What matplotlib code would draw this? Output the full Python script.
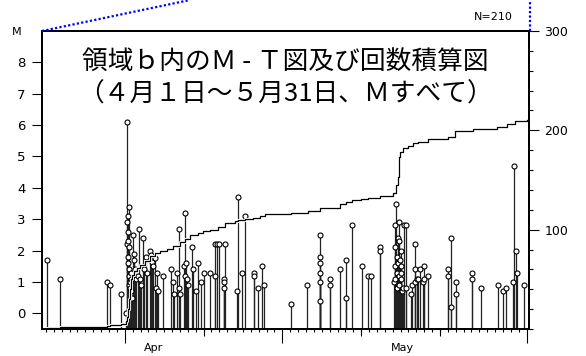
import matplotlib
matplotlib.use("Agg")
import matplotlib.pyplot as plt
import matplotlib.patheffects as pe
from matplotlib.lines import Line2D

# days counted from Apr 1 00:00 (day 0), magnitude M
ev_day = [0.17, 1.78, 7.75, 8.17, 9.56,
          10.2, 10.25, 10.3, 10.3, 10.35, 10.35, 10.4, 10.4, 10.45, 10.5, 10.5,
          10.55, 10.6, 10.6, 10.65, 10.7, 10.75, 10.8, 10.85, 10.9,
          11.05, 11.15, 11.2, 11.3, 11.45, 11.68, 11.81, 11.94, 12.1, 12.32, 12.44,
          12.7, 12.86, 13.17, 13.37, 13.5, 13.59, 13.8, 13.93, 14.13, 14.22, 14.86,
          15.91, 16.12, 16.25, 16.63, 16.89, 16.89, 16.95,
          17.56, 17.65, 17.65, 17.74, 17.94, 18.07, 18.54, 18.7, 19.01, 19.3, 19.68,
          20.06, 20.82, 21.45, 21.49, 21.71, 21.92, 22.6, 22.6, 22.6, 22.69,
          24.28, 24.37, 24.92, 25.22, 26.4, 26.4, 26.91, 27.46, 27.67,
          31.1, 33.17,
          34.74, 34.74, 34.74, 34.74, 34.74, 34.74,
          36.05, 36.05, 37.32, 38.04, 38.04, 38.84, 40.05, 40.91, 41.24, 42.33, 42.33,
          44.2, 44.34, 44.34, 44.34, 44.34, 44.46, 44.5, 44.55, 44.6, 44.68, 44.7,
          44.75, 44.8, 44.8, 44.85, 44.9, 45.02, 45.02, 45.1, 45.1, 45.2, 45.31,
          45.44, 45.73, 45.73,
          46.37, 46.46, 46.8, 46.8, 46.8, 47.03, 47.22, 47.47, 47.79, 47.98, 48.0, 48.48,
          51.06, 51.06, 51.36, 51.36, 51.99, 51.99, 54.11, 54.11, 55.21, 57.41, 58.0,
          58.38, 59.23, 59.36, 59.59, 59.74, 60.67]
ev_mag = [1.7, 1.1, 1.0, 0.9, 0.6,
          0.0, 6.1, 2.2, 2.9, 2.6, 1.8, 3.1, 2.3, 1.6, 3.4, 2.1,
          1.2, 1.4, 0.9, 1.0, 0.8, 1.3, 0.7, 1.1, 0.5,
          2.5, 1.9, 1.7, 1.4, 1.1, 1.2, 2.7, 1.1, 0.9, 2.4, 1.4,
          1.8, 1.3, 2.0, 1.85, 1.65, 1.5, 1.75, 0.8, 1.3, 0.7, 1.2,
          1.4, 1.0, 0.6, 1.3, 2.7, 0.8, 0.6,
          1.5, 3.2, 1.2, 1.6, 1.1, 0.9, 2.1, 1.4, 0.7, 1.6, 1.0,
          1.3, 1.3, 1.2, 2.2, 2.2, 2.2, 1.1, 1.0, 0.8, 2.2,
          0.7, 3.7, 1.3, 3.1, 1.3, 1.2, 0.8, 1.5, 0.9,
          0.3, 0.9,
          2.5, 1.8, 1.6, 1.3, 1.0, 0.4,
          1.1, 0.9, 1.4, 1.7, 0.5, 2.8, 1.5, 1.2, 1.2, 2.1, 2.0,
          1.0, 2.8, 2.1, 1.5, 1.1, 3.5, 1.8, 1.3, 0.8, 1.6, 2.4,
          1.2, 2.3, 2.9, 0.9, 1.7, 2.0, 1.5, 1.1, 1.3, 0.7, 0.8,
          2.8, 2.8, 0.8,
          0.6, 0.9, 2.2, 1.4, 1.0, 1.1, 1.1, 1.4, 1.0, 1.5, 1.1, 1.2,
          1.4, 1.2, 2.4, 0.2, 1.0, 0.6, 1.3, 1.1, 0.8, 0.9, 0.7,
          0.8, 1.0, 4.7, 2.0, 1.3, 0.9]

# cumulative number of events
cum_day = [-0.5, 0.17, 1.78, 7.75, 8.17, 9.56, 10.16, 10.29, 10.41, 10.54, 10.67,
           10.79, 10.92, 11.18, 11.56, 11.94, 12.57, 13.21, 13.84, 14.47, 15.36,
           16.12, 17.01, 17.65, 18.28, 19.3, 19.93, 20.82, 21.84, 22.69, 23.99,
           24.37, 25.22, 26.28, 27.17, 27.76, 31.1, 33.26, 34.78, 37.32, 38.08,
           38.84, 39.98, 40.87, 42.39, 44.04, 44.42, 44.68, 44.76, 44.89, 45.31,
           45.95, 46.58, 47.22, 48.48, 51.02, 51.91, 54.2, 57.24, 58.51, 59.52, 61.05]
cum_count = [0, 1, 2, 3, 4, 5, 8, 12, 20, 30, 40,
             50, 54, 58, 61, 64, 68, 73, 77, 79, 81,
             84, 88, 91, 95, 97, 99, 100, 103, 107, 109,
             110, 111, 112, 114, 116, 117, 119, 122, 126, 128,
             130, 131, 132, 134, 137, 145, 153, 173, 178, 182,
             184, 187, 188, 191, 193, 199, 201, 203, 206, 209, 210]

title1 = "領域ｂ内のＭ - Ｔ図及び回数積算図"
title2 = "（４月１日～５月31日、Ｍすべて）"
month_labels = ["Apr", "May"]
month_pos = [13.6, 45.3]

fig = plt.figure(figsize=(5.86, 3.56), dpi=100)
ax = fig.add_axes([42 / 586, 27 / 356, 487 / 586, 298 / 356])

ax.vlines(ev_day, -0.5, ev_mag, color="#222222", lw=0.9, zorder=2)
ax.plot(ev_day, ev_mag, "o", ms=3.6, mfc="white", mec="black", mew=0.8, zorder=3)

ax.set_xlim(-0.5, 61.3)
ax.set_ylim(-0.5, 9)
ax.set_yticks(range(0, 9))
ax.tick_params(axis="y", length=7, width=0.8, pad=5, labelsize=9.5)
ax.set_xticks([10, 30, 61])
ax.set_xticks(range(0, 62), minor=True)
ax.tick_params(axis="x", which="major", length=10, width=0.8, labelbottom=False)
ax.tick_params(axis="x", which="minor", length=2.2, width=0.8)

sec = ax.secondary_xaxis("bottom")
sec.set_xticks([20, 40, 50])
sec.tick_params(length=5, width=0.8, labelbottom=False)
sec.spines["bottom"].set_visible(False)

for lab, pos in zip(month_labels, month_pos):
    ax.text(pos, -0.064, lab, transform=ax.get_xaxis_transform(),
            ha="center", va="center", fontsize=8)

ax2 = ax.twinx()
ax2.plot(cum_day, cum_count, color="black", lw=0.9, drawstyle="steps-post",
         path_effects=[pe.withStroke(linewidth=2.2, foreground="white")])
ax2.set_ylim(0, 300)
ax2.set_yticks([100, 200, 300])
ax2.set_yticks(range(0, 301, 20), minor=True)
ax2.tick_params(axis="y", which="major", length=7, width=0.8, pad=4, labelsize=9)
ax2.tick_params(axis="y", which="minor", length=3, width=0.8)

for a in (ax, ax2):
    for s in a.spines.values():
        s.set_linewidth(1.4)

ax2.text(0.5, 0.898, title1, transform=ax.transAxes, ha="center", va="center",
         fontsize=18.5, family=["Noto Sans CJK JP", "DejaVu Sans"])
ax2.text(0.5, 0.787, title2, transform=ax.transAxes, ha="center", va="center",
         fontsize=18.5, family=["Noto Sans CJK JP", "DejaVu Sans"])

fig.text(17 / 586, 1 - 32 / 356, "M", ha="center", va="center", fontsize=8)
fig.text(513 / 586, 1 - 17 / 356, "N=210", ha="right", va="center", fontsize=8)

fig.add_artist(Line2D([42 / 586, 190 / 586], [1 - 31 / 356, 1.0],
                      transform=fig.transFigure, color="blue", lw=1.6, ls=(0, (1, 1))))
fig.add_artist(Line2D([529.5 / 586, 529.5 / 586], [1 - 31 / 356, 1.0],
                      transform=fig.transFigure, color="blue", lw=1.6, ls=(0, (1, 1))))

fig.savefig("out.png", dpi=100)
